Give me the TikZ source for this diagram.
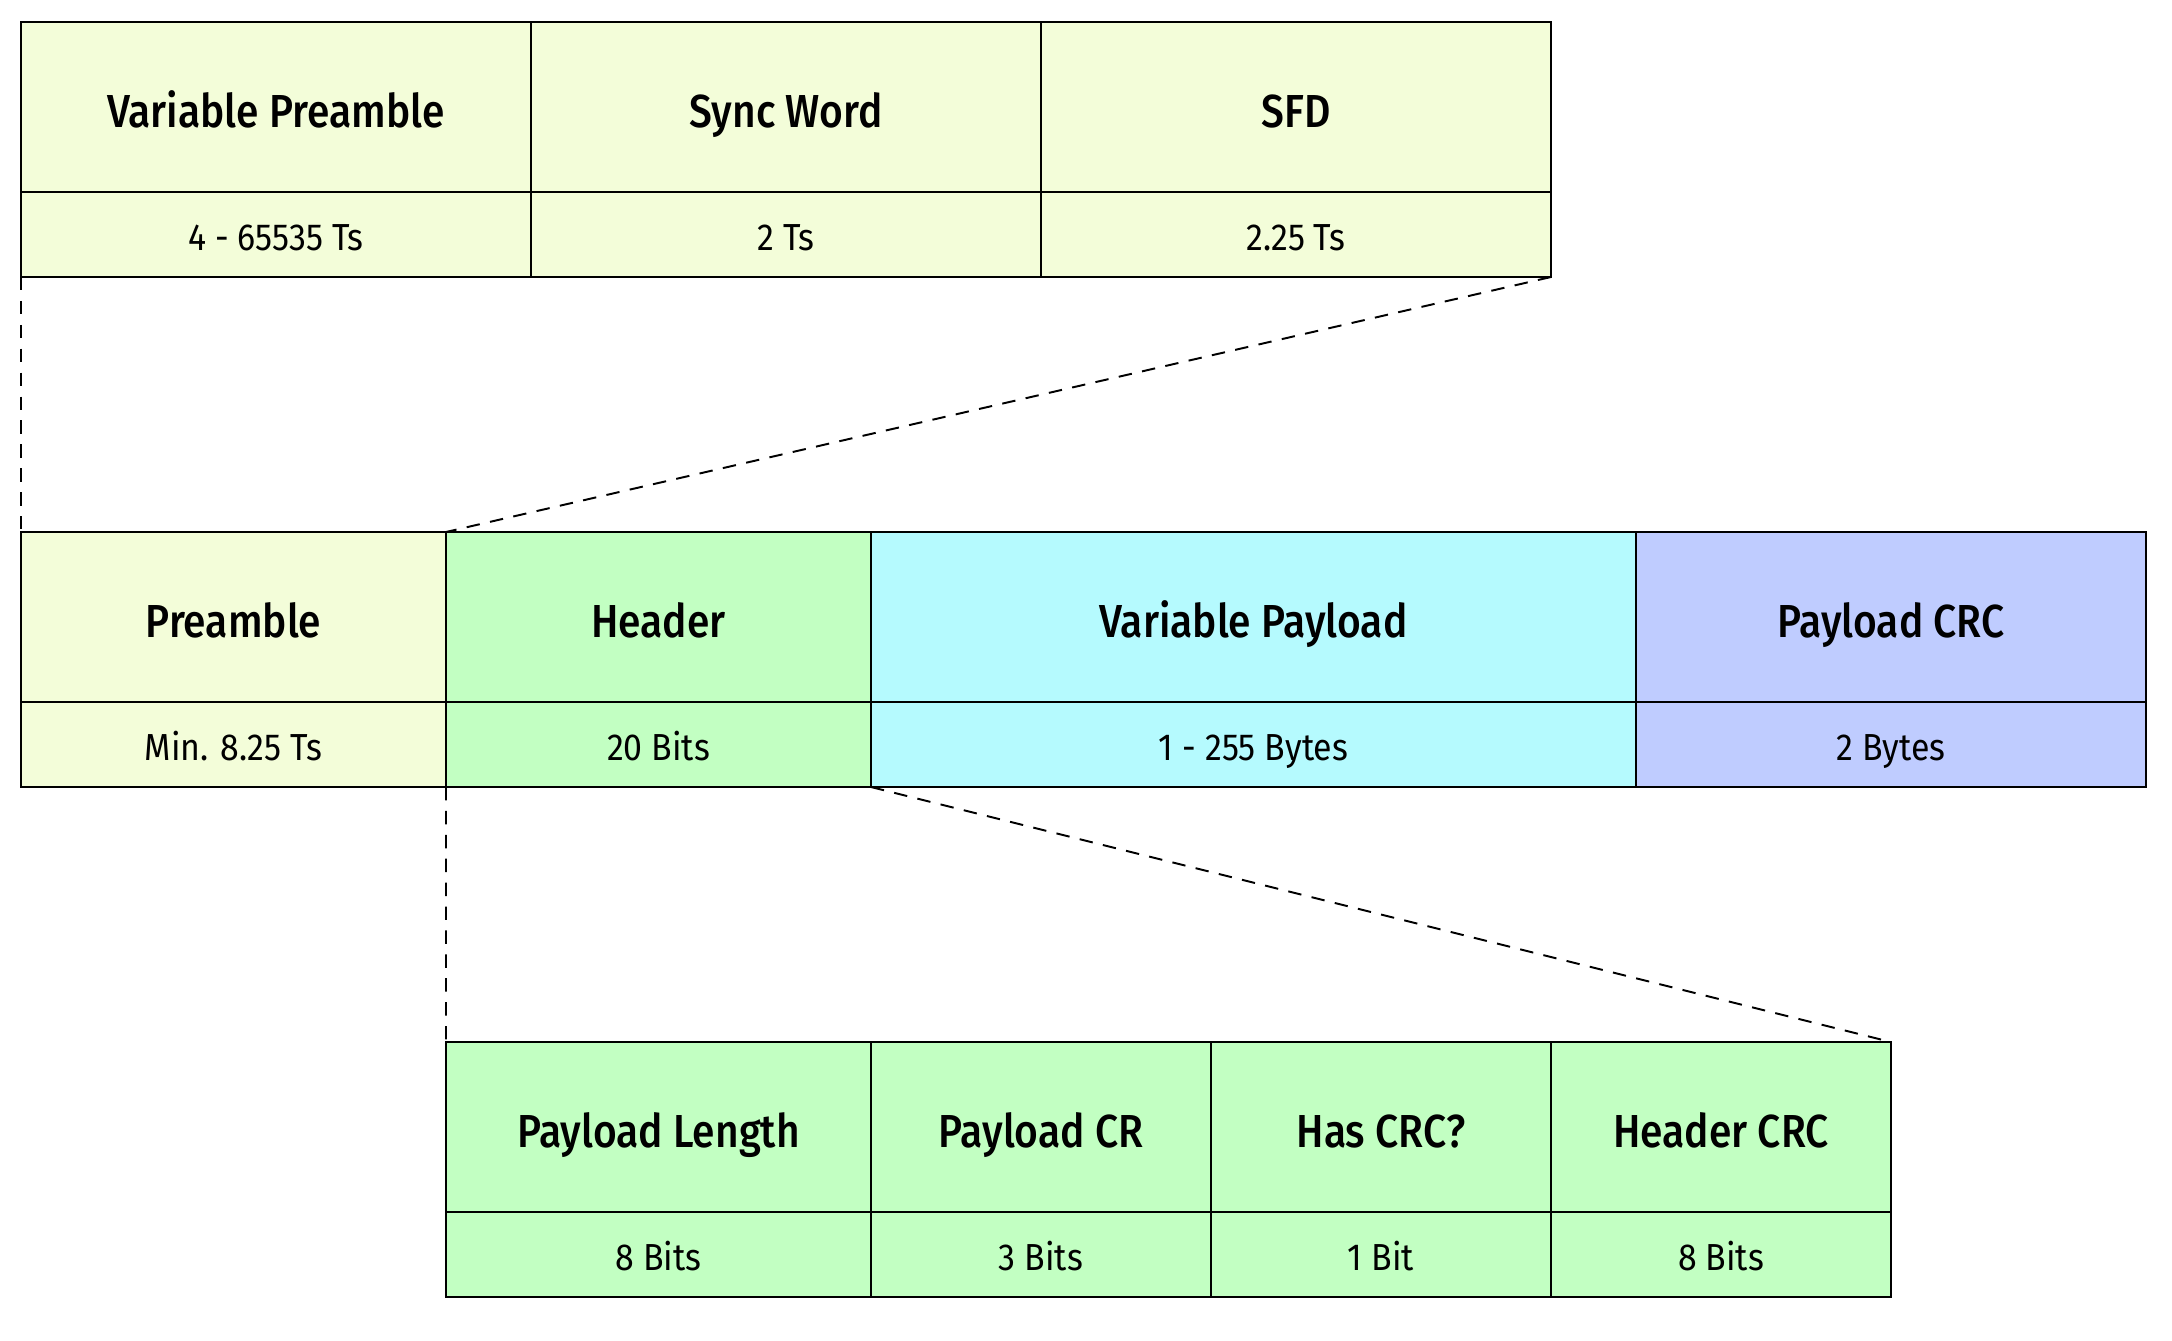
\documentclass[tikz,border=0pt]{standalone}
\usepackage{fontspec}
\setmainfont{Fira Sans}[FakeStretch=0.9]
\newfontfamily\titlefont{Fira Sans Medium}[FakeStretch=0.88]
\definecolor{cyel}{HTML}{F3FDD9}
\definecolor{cgrn}{HTML}{C2FFC2}
\definecolor{ccyn}{HTML}{B5FAFE}
\definecolor{cblu}{HTML}{BFCCFF}
\tikzset{
  cell/.style={draw=black, line width=0.8pt, anchor=north west, inner sep=0pt, outer sep=0pt},
  titlecell/.style={cell, minimum height=2cm, text height=14.5pt, text depth=1pt,
    font=\titlefont\fontsize{15.5}{18}\selectfont},
  valcell/.style={cell, minimum height=1cm, text height=11.5pt, text depth=1pt,
    font=\fontsize{12.6}{15}\selectfont},
  zoomline/.style={dash pattern=on 4.5pt off 3.5pt, line width=0.65pt}
}
\begin{document}
\begin{tikzpicture}
\useasboundingbox (-0.247,0.259) rectangle (25.306,-15.506);
% top row
\node[titlecell, fill=cyel, minimum width=6cm] (vp) at (0,0) {Variable Preamble};
\node[valcell, fill=cyel, minimum width=6cm] (vpv) at (vp.south west) {4 - 65535 Ts};
\node[titlecell, fill=cyel, minimum width=6cm] (sw) at (vp.north east) {Sync Word};
\node[valcell, fill=cyel, minimum width=6cm] (swv) at (sw.south west) {2 Ts};
\node[titlecell, fill=cyel, minimum width=6cm] (sfd) at (sw.north east) {SFD};
\node[valcell, fill=cyel, minimum width=6cm] (sfdv) at (sfd.south west) {2.25 Ts};
% middle row
\node[titlecell, fill=cyel, minimum width=5cm] (pre) at (0,-6) {Preamble};
\node[valcell, fill=cyel, minimum width=5cm] (prev) at (pre.south west) {Min. 8.25 Ts};
\node[titlecell, fill=cgrn, minimum width=5cm] (hdr) at (pre.north east) {Header};
\node[valcell, fill=cgrn, minimum width=5cm] (hdrv) at (hdr.south west) {20 Bits};
\node[titlecell, fill=ccyn, minimum width=9cm] (pay) at (hdr.north east) {Variable Payload};
\node[valcell, fill=ccyn, minimum width=9cm] (payv) at (pay.south west) {1 - 255 Bytes};
\node[titlecell, fill=cblu, minimum width=6cm] (pcrc) at (pay.north east) {Payload CRC};
\node[valcell, fill=cblu, minimum width=6cm] (pcrcv) at (pcrc.south west) {2 Bytes};
% bottom row
\node[titlecell, fill=cgrn, minimum width=5cm] (plen) at (5,-12) {Payload Length};
\node[valcell, fill=cgrn, minimum width=5cm] (plenv) at (plen.south west) {8 Bits};
\node[titlecell, fill=cgrn, minimum width=4cm] (pcr) at (plen.north east) {Payload CR};
\node[valcell, fill=cgrn, minimum width=4cm] (pcrv) at (pcr.south west) {3 Bits};
\node[titlecell, fill=cgrn, minimum width=4cm] (has) at (pcr.north east) {Has CRC?};
\node[valcell, fill=cgrn, minimum width=4cm] (hasv) at (has.south west) {1 Bit};
\node[titlecell, fill=cgrn, minimum width=4cm] (hcrc) at (has.north east) {Header CRC};
\node[valcell, fill=cgrn, minimum width=4cm] (hcrcv) at (hcrc.south west) {8 Bits};
% zoom lines
\draw[zoomline] (vpv.south west) -- (pre.north west);
\draw[zoomline] (sfdv.south east) -- (hdr.north west);
\draw[zoomline] (hdrv.south west) -- (plen.north west);
\draw[zoomline] (hdrv.south east) -- (hcrc.north east);
\end{tikzpicture}
\end{document}
